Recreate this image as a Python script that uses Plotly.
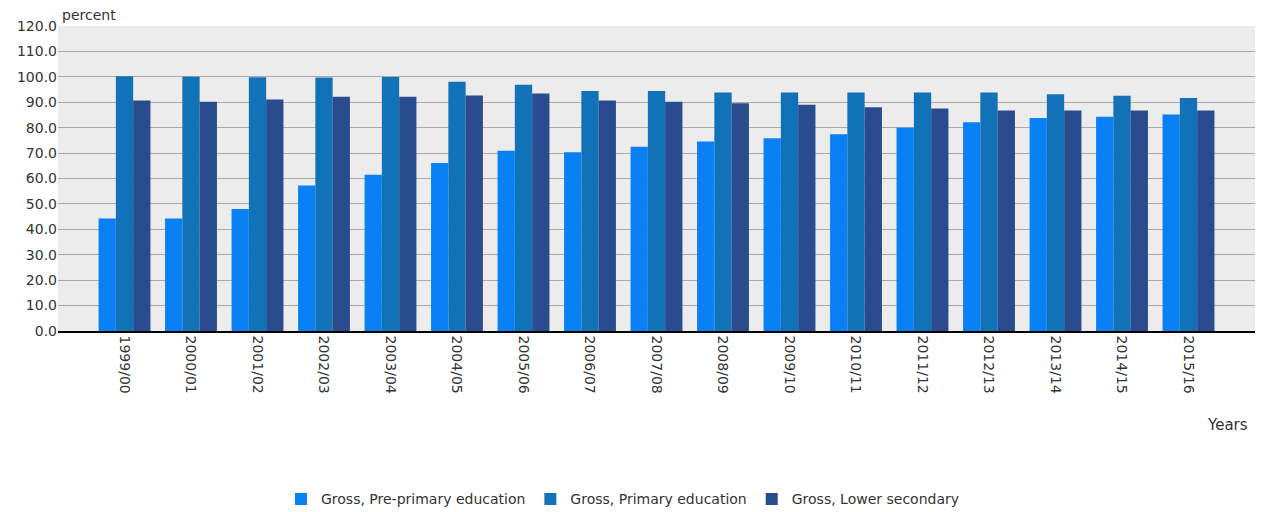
import plotly.graph_objects as go

years = ["1999/00", "2000/01", "2001/02", "2002/03", "2003/04", "2004/05", "2005/06",
         "2006/07", "2007/08", "2008/09", "2009/10", "2010/11", "2011/12", "2012/13",
         "2013/14", "2014/15", "2015/16"]
pre_primary = [44.3, 44.3, 48.0, 57.2, 61.5, 66.1, 70.9, 70.3, 72.5, 74.6, 75.8, 77.4,
               80.0, 82.1, 83.8, 84.3, 85.2]
primary = [100.2, 100.0, 99.8, 99.7, 99.9, 98.1, 96.9, 94.4, 94.4, 93.8, 93.8, 93.8,
           93.8, 93.8, 93.1, 92.6, 91.7]
lower_secondary = [90.7, 90.2, 91.1, 92.2, 92.2, 92.7, 93.4, 90.7, 90.2, 89.6, 89.0, 88.0,
                   87.5, 86.8, 86.8, 86.8, 86.8]

series_names = ["Gross, Pre-primary education", "Gross, Primary education", "Gross, Lower secondary"]
colors = ["#0a80f5", "#1272b8", "#2a4b8d"]

FONT = "DejaVu Sans, Arial, sans-serif"

fig = go.Figure()
for name, vals, col in zip(series_names, [pre_primary, primary, lower_secondary], colors):
    fig.add_trace(go.Bar(x=years, y=vals, name=name, marker_color=col, marker_line_width=0))

fig.update_layout(
    width=1256, height=504,
    margin=dict(l=50, r=9, t=18, b=181, autoexpand=False),
    paper_bgcolor="white",
    plot_bgcolor="#ececec",
    barmode="group",
    bargap=0.22,
    bargroupgap=0,
    font=dict(family=FONT, size=13, color="#333333"),
    showlegend=True,
    legend=dict(orientation="h", x=0.472, xanchor="center", y=-0.552, yanchor="middle",
                font=dict(family=FONT, size=14, color="#333333"), itemwidth=30,
                traceorder="normal"),
    xaxis=dict(range=[-1, 17], tickangle=90, showgrid=False, showline=True, automargin=False,
               linecolor="black", linewidth=1.5, ticks="",
               tickfont=dict(family=FONT, size=14, color="#333333")),
    yaxis=dict(range=[0, 120], dtick=10, tickformat=".1f", showgrid=True, gridcolor="#aaaaaa",
               gridwidth=1, zeroline=False, ticks="", automargin=False,
               tickfont=dict(family=FONT, size=14, color="#333333")),
    annotations=[
        dict(text="percent", xref="paper", yref="paper", x=0.002, y=1.0, xanchor="left",
             yanchor="bottom", yshift=1, showarrow=False,
             font=dict(family=FONT, size=14, color="#333333")),
        dict(text="Years", xref="paper", yref="paper", x=0.996, y=-0.308, xanchor="right",
             yanchor="middle", showarrow=False, font=dict(family=FONT, size=15, color="#333333")),
    ],
)

fig.write_html("out.html")
